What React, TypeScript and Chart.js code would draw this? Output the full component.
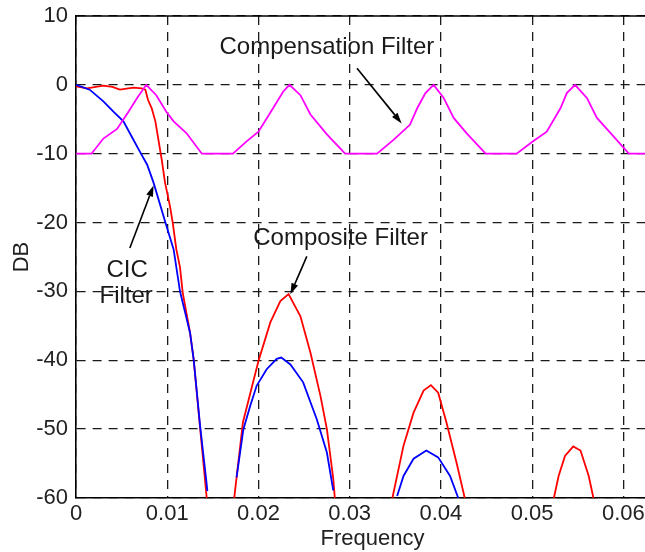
import React, { useEffect, useRef } from "react";
import { Chart, registerables } from "chart.js";

Chart.register(...registerables);

// ---- Data ----
const compFreq = [0, 0.0017, 0.003, 0.0045, 0.0057, 0.0067, 0.0077, 0.0088, 0.0099, 0.0107, 0.0121, 0.0138,
  0.0172, 0.0187, 0.02, 0.0216, 0.0227, 0.0234, 0.0246, 0.0257, 0.0275, 0.0295,
  0.033, 0.0348, 0.0366, 0.0374, 0.0383, 0.0392, 0.0403, 0.0414, 0.0428, 0.0449,
  0.0483, 0.0501, 0.0516, 0.0531, 0.0538, 0.0547, 0.056, 0.0571, 0.0586, 0.0606, 0.066];
const compDb = [-10, -10, -7.8, -6.4, -4.0, -1.9, 0, -1.5, -3.9, -5.3, -7.0, -10,
  -10, -8.2, -6.8, -3.4, -1.0, 0, -1.5, -4.3, -7.2, -10,
  -10, -8.0, -5.8, -3.4, -1.2, 0, -1.9, -4.8, -7.0, -10,
  -10, -8.2, -6.8, -3.4, -1.2, 0, -1.9, -4.8, -7.0, -10, -10];

const cicFreq = [0, 0.0015, 0.003, 0.0041, 0.0052, 0.0061, 0.007, 0.0078, 0.0085, 0.0098, 0.0107, 0.0114, 0.0125, 0.0129, 0.0136, 0.0143, 0.0144,
  0.016,
  0.0176, 0.01835, 0.0191, 0.0198, 0.0209, 0.022, 0.0225, 0.0235, 0.0249, 0.0264, 0.0275, 0.0282,
  0.031,
  0.0352, 0.0359, 0.037, 0.0384, 0.0397, 0.041, 0.0419];
const cicDb = [0, -0.7, -2.4, -3.9, -5.3, -7.5, -9.7, -11.6, -14.2, -20, -23.9, -30, -36, -39.9, -49.5, -57.7, -59,
  null,
  -57, -50, -46.6, -43.7, -41.3, -39.8, -39.6, -40.6, -43.2, -48.6, -53.4, -58.9,
  null,
  -59.7, -56.8, -54.3, -53.1, -54.1, -56.8, -60];

const compositeFreq = [0, 0.0012, 0.003, 0.004, 0.0048, 0.0063, 0.0072, 0.0076, 0.0079, 0.0083, 0.0087, 0.009, 0.0094, 0.00976, 0.0103, 0.0106, 0.011, 0.0114, 0.0117, 0.0125, 0.0129, 0.0136, 0.0144,
  0.016,
  0.0173, 0.0183, 0.02, 0.0213, 0.0224, 0.0233, 0.0246, 0.0257, 0.0268, 0.0275, 0.0282, 0.0284,
  0.031,
  0.0346, 0.0359, 0.037, 0.0381, 0.0389, 0.0397, 0.0406, 0.0417, 0.0427,
  0.047,
  0.0523, 0.0529, 0.0536, 0.0545, 0.0553, 0.0562, 0.0568];
const compositeDb = [-0.2, -0.5, -0.1, -0.3, -0.7, -0.4, -0.5, -0.7, -2.2, -3.4, -5.3, -7.7, -10.9, -14.2, -17.6, -20, -23.9, -26.5, -30.2, -36, -39.9, -49.8, -61,
  null,
  -60.5, -49, -40.1, -34.5, -31.4, -30.4, -33.6, -38.9, -45.2, -50, -57.2, -60.5,
  null,
  -60.5, -52.4, -47.6, -44.4, -43.6, -44.7, -49, -54.8, -60.5,
  null,
  -60.5, -56.8, -53.9, -52.5, -53.1, -56.8, -60.5];

const xTicksStep = 0.01;
const yTicksStep = 10;
const xMin = 0;
const xMax = 0.065;
const yMin = -60;
const yMax = 10;

// annotation texts (data coordinates)
const noteTexts = ["Compensation Filter", "CIC", "Filter", "Composite Filter"];
const noteX = [0.0275, 0.0056, 0.0055, 0.029];
const noteY = [5.4, -27.0, -30.7, -22.3];
// arrows: from -> to (data coordinates)
const arrowFromX = [0.0308, 0.0059, 0.0253];
const arrowFromY = [2.4, -23.7, -24.9];
const arrowToX = [0.0357, 0.0085, 0.0235];
const arrowToY = [-5.6, -14.6, -30.4];

const FONT = '"Liberation Sans", Arial, Helvetica, sans-serif';

const toPoints = (xs: number[], ys: (number | null)[]) => xs.map((x, i) => ({ x, y: ys[i] }));

const notesPlugin = {
  id: "notes",
  afterDatasetsDraw(chart: any) {
    const { ctx, scales, chartArea } = chart;
    const xs = scales.x;
    const ys = scales.y;
    ctx.save();
    // top frame line
    ctx.strokeStyle = "#000";
    ctx.lineWidth = 1.5;
    ctx.beginPath();
    ctx.moveTo(chartArea.left, chartArea.top);
    ctx.lineTo(chartArea.right, chartArea.top);
    ctx.stroke();

    ctx.font = `24px ${FONT}`;
    ctx.fillStyle = "#1a1a1a";
    ctx.textAlign = "center";
    ctx.textBaseline = "middle";
    noteTexts.forEach((t, i) => {
      ctx.fillText(t, xs.getPixelForValue(noteX[i]), ys.getPixelForValue(noteY[i]));
    });

    ctx.strokeStyle = "#000";
    ctx.fillStyle = "#000";
    ctx.lineWidth = 1.6;
    arrowFromX.forEach((_, i) => {
      const x1 = xs.getPixelForValue(arrowFromX[i]);
      const y1 = ys.getPixelForValue(arrowFromY[i]);
      const x2 = xs.getPixelForValue(arrowToX[i]);
      const y2 = ys.getPixelForValue(arrowToY[i]);
      const ang = Math.atan2(y2 - y1, x2 - x1);
      const len = 11;
      const w = 3.5;
      const bx = x2 - len * Math.cos(ang);
      const by = y2 - len * Math.sin(ang);
      ctx.beginPath();
      ctx.moveTo(x1, y1);
      ctx.lineTo(bx, by);
      ctx.stroke();
      ctx.beginPath();
      ctx.moveTo(x2, y2);
      ctx.lineTo(bx + w * Math.sin(ang), by - w * Math.cos(ang));
      ctx.lineTo(bx - w * Math.sin(ang), by + w * Math.cos(ang));
      ctx.closePath();
      ctx.fill();
    });
    ctx.restore();
  },
};

export default function App() {
  const ref = useRef<HTMLCanvasElement | null>(null);

  useEffect(() => {
    if (!ref.current) return;
    const grid = {
      color: "#1a1a1a",
      lineWidth: 1.3,
      drawTicks: false,
    };
    const border = { display: true, color: "#000", width: 1.6, dash: [9, 7] };
    const chart = new Chart(ref.current, {
      type: "line",
      data: {
        datasets: [
          {
            label: "Compensation Filter",
            data: toPoints(compFreq, compDb),
            borderColor: "#ff00ff",
            borderWidth: 1.8,
            pointRadius: 0,
            tension: 0,
            spanGaps: false,
          },
          {
            label: "CIC Filter",
            data: toPoints(cicFreq, cicDb),
            borderColor: "#0000ff",
            borderWidth: 1.8,
            pointRadius: 0,
            tension: 0,
            spanGaps: false,
          },
          {
            label: "Composite Filter",
            data: toPoints(compositeFreq, compositeDb),
            borderColor: "#ff0000",
            borderWidth: 1.8,
            pointRadius: 0,
            tension: 0,
            spanGaps: false,
          },
        ],
      },
      options: {
        animation: false,
        responsive: false,
        maintainAspectRatio: false,
        layout: { padding: { top: 16, right: 31, left: 0, bottom: 0 } },
        plugins: { legend: { display: false }, tooltip: { enabled: false } },
        scales: {
          x: {
            type: "linear",
            min: xMin,
            max: xMax,
            grid,
            border,
            afterFit: (s: any) => {
              s.height = 54;
            },
            ticks: {
              stepSize: xTicksStep,
              includeBounds: false,
              padding: 3,
              color: "#222",
              font: { family: FONT, size: 22 },
              maxRotation: 0,
              autoSkip: false,
              callback: (v: any) => {
                const n = Number(Number(v).toFixed(2));
                return n > 0.0625 ? "" : String(n);
              },
            },
            title: {
              display: true,
              text: "Frequency",
              color: "#222",
              font: { family: FONT, size: 22 },
              padding: { top: 0, bottom: 0 },
            },
          },
          y: {
            type: "linear",
            min: yMin,
            max: yMax,
            grid,
            border,
            afterFit: (s: any) => {
              s.width = 76;
              s.paddingTop = 8;
              s.paddingBottom = 8;
            },
            ticks: {
              stepSize: yTicksStep,
              padding: 8,
              color: "#222",
              font: { family: FONT, size: 22 },
            },
            title: {
              display: true,
              text: "DB",
              color: "#222",
              font: { family: FONT, size: 22 },
              padding: { top: 9, bottom: 0 },
            },
          },
        },
      },
      plugins: [notesPlugin],
    } as any);
    return () => chart.destroy();
  }, []);

  return (
    <div
      style={{
        position: "fixed",
        left: 0,
        top: 0,
        width: 645,
        height: 552,
        overflow: "hidden",
        background: "#fff",
      }}
    >
      <canvas ref={ref} width={700} height={552} style={{ width: 700, height: 552, display: "block" }} />
    </div>
  );
}
